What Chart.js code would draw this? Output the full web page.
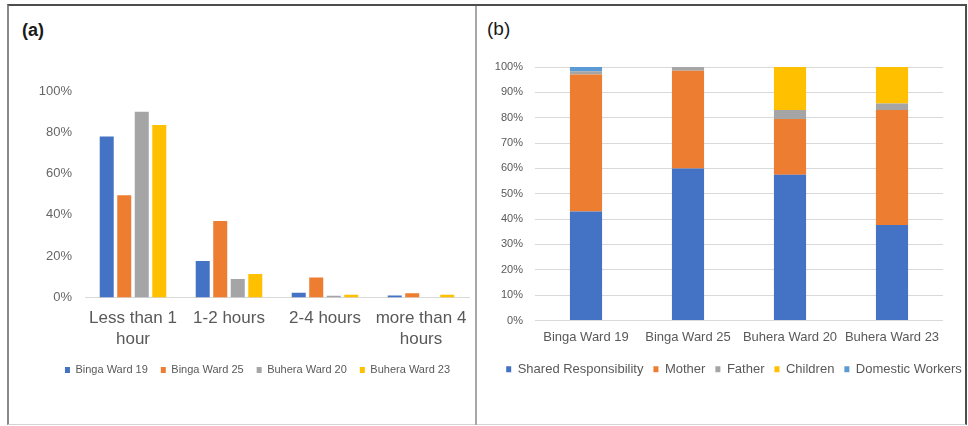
<!DOCTYPE html>
<html>
<head>
<meta charset="utf-8">
<title>Water collection time and responsibility</title>
<script src="https://cdn.jsdelivr.net/npm/chart.js@4.4.1/dist/chart.umd.min.js"></script>
<style>
  html, body { margin: 0; padding: 0; background: #ffffff; }
  body { width: 968px; height: 426px; overflow: hidden; position: relative;
         font-family: "Liberation Sans", Arial, sans-serif; }
  #frame { position: absolute; left: 7px; top: 4px; width: 960px; height: 421px; box-sizing: border-box;
           border-top: 2px solid #4d4d4d; border-left: 2px solid #8a8a8a;
           border-right: 2px solid #4d4d4d; border-bottom: 1px solid #d4d4d4; }
  #divider { position: absolute; left: 475px; top: 6px; width: 2px; height: 419px; background: #a8a8a8; }
  .panel-tag { position: absolute; line-height: 1; color: #1a1a1a; }
  #tagA { left: 22px; top: 21px; font-size: 18px; font-weight: bold; }
  #tagB { left: 487px; top: 19px; font-size: 19px; }
  canvas { position: absolute; }
  #timeChart { left: 0px; top: 6px; }
  #dutyChart { left: 477px; top: 6px; }
</style>
</head>
<body>
<div id="frame"></div>
<div id="divider"></div>
<div class="panel-tag" id="tagA">(a)</div>
<div class="panel-tag" id="tagB">(b)</div>
<canvas id="timeChart" width="485" height="420"></canvas>
<canvas id="dutyChart" width="510" height="420"></canvas>
<script>
// Panel (a): time spent per trip, share of households in each ward
const hourBands = [["Less than 1", "hour"], "1-2 hours", "2-4 hours", ["more than 4", "hours"]];
const bingaWard19Time = [78, 17.7, 2.3, 1];
const bingaWard25Time = [49.5, 37, 9.7, 2];
const buheraWard20Time = [90, 9, 0.8, 0];
const buheraWard23Time = [83.5, 11.4, 1.3, 1.3];
const timeTicks = [0, 20, 40, 60, 80, 100];

// Panel (b): who is responsible for fetching water
const wards = ["Binga Ward 19", "Binga Ward 25", "Buhera Ward 20", "Buhera Ward 23"];
const sharedResponsibility = [43, 60, 57.5, 37.7];
const mother = [54, 38.5, 22, 45.3];
const father = [1.3, 1.5, 3.5, 2.6];
const children = [0, 0, 17, 14.4];
const domesticWorkers = [1.7, 0, 0, 0];
const dutyTicks = [0, 10, 20, 30, 40, 50, 60, 70, 80, 90, 100];

const BLUE = "#4472C4", ORANGE = "#ED7D31", GREY = "#A5A5A5", GOLD = "#FFC000", LIGHT_BLUE = "#5B9BD5";
const TEXT = "#595959", GRID = "#d9d9d9";

Chart.defaults.font.family = '"Liberation Sans", Arial, sans-serif';
Chart.defaults.color = TEXT;

const pct = v => v + "%";

// an empty right-hand axis that only reserves width, so the legend row can be
// centred independently of the plot area
const spacerAxis = width => ({
  type: "linear",
  axis: "y",
  position: "right",
  grid: { display: false, drawTicks: false },
  border: { display: false },
  ticks: { display: false },
  afterFit(scale) { scale.width = width; }
});

new Chart(document.getElementById("timeChart"), {
  type: "bar",
  data: {
    labels: hourBands,
    datasets: [
      { label: "Binga Ward 19", data: bingaWard19Time, backgroundColor: BLUE },
      { label: "Binga Ward 25", data: bingaWard25Time, backgroundColor: ORANGE },
      { label: "Buhera Ward 20", data: buheraWard20Time, backgroundColor: GREY },
      { label: "Buhera Ward 23", data: buheraWard23Time, backgroundColor: GOLD }
    ]
  },
  options: {
    responsive: false,
    animation: false,
    devicePixelRatio: 1,
    categoryPercentage: 0.73,
    barPercentage: 0.8,
    layout: { padding: { left: 30, right: 0, top: 85, bottom: 40.5 } },
    plugins: {
      tooltip: { enabled: false },
      legend: {
        position: "bottom",
        labels: { boxWidth: 5, boxHeight: 6, padding: 13, color: TEXT, font: { size: 11 } }
      }
    },
    scales: {
      x: {
        grid: { display: false, drawTicks: false },
        border: { display: true, color: GRID, width: 1 },
        ticks: { padding: 11, color: TEXT, font: { size: 17 }, maxRotation: 0, autoSkip: false },
        afterFit(scale) { scale.height = 54; }
      },
      y: {
        min: 0, max: 100,
        afterBuildTicks(scale) { scale.ticks = timeTicks.map(v => ({ value: v })); },
        grid: { display: false, drawTicks: false },
        border: { display: false },
        ticks: { padding: 13, color: "#666666", font: { size: 13 }, callback: pct },
        afterFit(scale) { scale.width = 55; }
      },
      ySpacer: spacerAxis(16)
    }
  }
});

new Chart(document.getElementById("dutyChart"), {
  type: "bar",
  data: {
    labels: wards,
    datasets: [
      { label: "Shared Responsibility", data: sharedResponsibility, backgroundColor: BLUE },
      { label: "Mother", data: mother, backgroundColor: ORANGE },
      { label: "Father", data: father, backgroundColor: GREY },
      { label: "Children", data: children, backgroundColor: GOLD },
      { label: "Domestic Workers", data: domesticWorkers, backgroundColor: LIGHT_BLUE }
    ]
  },
  options: {
    responsive: false,
    animation: false,
    devicePixelRatio: 1,
    categoryPercentage: 1,
    barPercentage: 0.315,
    layout: { padding: { left: 4, right: 0, top: 61, bottom: 40.2 } },
    plugins: {
      tooltip: { enabled: false },
      legend: {
        position: "bottom",
        labels: { boxWidth: 5, boxHeight: 6, padding: 10, color: TEXT, font: { size: 13 } }
      }
    },
    scales: {
      x: {
        stacked: true,
        grid: { display: false, drawTicks: false },
        border: { display: false },
        ticks: { padding: 9, color: TEXT, font: { size: 13 }, maxRotation: 0, autoSkip: false },
        afterFit(scale) { scale.height = 32.3; }
      },
      y: {
        stacked: true,
        min: 0, max: 100,
        afterBuildTicks(scale) { scale.ticks = dutyTicks.map(v => ({ value: v })); },
        grid: { color: GRID, lineWidth: 1, drawTicks: false },
        border: { display: false },
        ticks: { padding: 12, color: TEXT, font: { size: 11 }, callback: pct },
        afterFit(scale) { scale.width = 54; }
      },
      ySpacer: spacerAxis(44)
    }
  }
});
</script>
</body>
</html>
